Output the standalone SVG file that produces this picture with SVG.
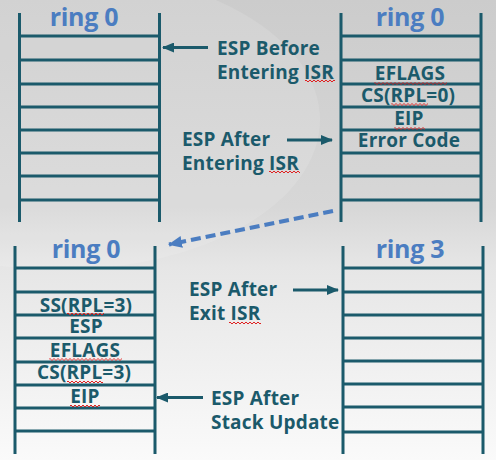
<svg xmlns="http://www.w3.org/2000/svg" xmlns:xlink="http://www.w3.org/1999/xlink" width="496" height="460" viewBox="0 0 496 460">
<style>
.stk{stroke:#1b5a6b;stroke-width:3;fill:none}
.ttl{font-family:"Open Sans","Noto Sans",sans-serif;font-weight:700;font-size:25px;fill:#4b7dc1;text-anchor:middle;letter-spacing:-0.3px}
.cell{font-family:"Open Sans","Noto Sans",sans-serif;font-weight:700;font-size:19px;fill:#1b5a6b;text-anchor:middle;letter-spacing:0.2px}
.lbl{font-family:"Open Sans","Noto Sans",sans-serif;font-weight:700;font-size:19px;fill:#1b5a6b;letter-spacing:0.2px}
.arr{stroke:#1b5a6b;stroke-width:3;fill:none;marker-end:url(#ah)}
.dash{stroke:#4b7dc1;stroke-width:4;fill:none;stroke-dasharray:10 5;marker-end:url(#bh)}
.sq{stroke:#e02020;stroke-width:1;fill:none}
</style>
<defs>
<linearGradient id="bg" x1="0" y1="0" x2="0" y2="1">
<stop offset="0" stop-color="#cccccc"/>
<stop offset="0.45" stop-color="#d7d7d7"/>
<stop offset="0.58" stop-color="#e6e6e6"/>
<stop offset="1" stop-color="#fafafa"/>
</linearGradient>
<marker id="ah" markerUnits="userSpaceOnUse" markerWidth="12" markerHeight="10" refX="11" refY="5" orient="auto">
<path d="M0,0 L12,5 L0,10 z" fill="#1b5a6b"/>
</marker>
<marker id="bh" markerUnits="userSpaceOnUse" markerWidth="14" markerHeight="12" refX="13" refY="6" orient="auto">
<path d="M0,0 L14,6 L0,12 z" fill="#4b7dc1"/>
</marker>
<path id="wv" class="sq" d="M0 2 q1 -2 2 0 t2 0 t2 0 t2 0 t2 0 t2 0 t2 0 t2 0 t2 0 t2 0 t2 0 t2 0 t2 0 t2 0 t2 0 t2 0 t2 0 t2 0 t2 0 t2 0 t2 0 t2 0 t2 0 t2 0 t2 0 t2 0 t2 0 t2 0 t2 0 t2 0 t2 0 t2 0 t2 0 t2 0 t2 0 t2 0 t2 0 t2 0 t2 0 t2 0"/>
</defs>
<rect width="496" height="460" fill="url(#bg)"/>
<ellipse cx="60" cy="120" rx="260" ry="150" fill="#ffffff" opacity="0.12"/>

<g id="stack-top-left">
<path class="stk" d="M19.5 13V222M159.5 13V222M19.5 36H159.5M19.5 60H159.5M19.5 84H159.5M19.5 107H159.5M19.5 130H159.5M19.5 153H159.5M19.5 176H159.5M19.5 200H159.5"/>
<text class="ttl" x="84" y="26">ring 0</text>
</g>

<g id="stack-top-right">
<path class="stk" d="M341 13V222M481 13V222M341 36H481M341 60H481M341 84H481M341 107H481M341 130H481M341 153H481M341 176H481M341 200H481"/>
<text class="ttl" x="410" y="26">ring 0</text>
<text class="cell" x="410" y="80">EFLAGS</text>
<text class="cell" x="408" y="102">CS(RPL=0)</text>
<text class="cell" x="409" y="125">EIP</text>
<text class="cell" x="409" y="147">Error Code</text>
</g>

<g id="stack-bottom-left">
<path class="stk" d="M15 246V454M155 246V454M15 268H155M15 292H155M15 315H155M15 338H155M15 362H155M15 385H155M15 408H155M15 431H155"/>
<text class="ttl" x="86" y="258">ring 0</text>
<text class="cell" x="86" y="312">SS(RPL=3)</text>
<text class="cell" x="86" y="333">ESP</text>
<text class="cell" x="85" y="357">EFLAGS</text>
<text class="cell" x="84" y="379">CS(RPL=3)</text>
<text class="cell" x="85" y="403">EIP</text>
</g>

<g id="stack-bottom-right">
<path class="stk" d="M343 246V454M483 246V454M343 268H483M343 292H483M343 315H483M343 338H483M343 361H483M343 384H483M343 407H483M343 432H483"/>
<text class="ttl" x="410" y="258">ring 3</text>
</g>

<g id="label-before">
<text class="lbl" x="217" y="55">ESP Before</text>
<text class="lbl" x="217" y="79">Entering ISR</text>
</g>
<g id="label-after-enter">
<text class="lbl" x="182" y="146">ESP After</text>
<text class="lbl" x="182" y="170">Entering ISR</text>
</g>
<g id="label-after-exit">
<text class="lbl" x="189" y="296">ESP After</text>
<text class="lbl" x="189" y="320">Exit ISR</text>
</g>
<g id="label-after-update">
<text class="lbl" x="211" y="405">ESP After</text>
<text class="lbl" x="211" y="429">Stack Update</text>
</g>

<g id="connectors">
<path class="arr" d="M208 47.5H163"/>
<path class="arr" d="M287 140H332"/>
<path class="arr" d="M293 290H338"/>
<path class="arr" d="M203 397.5H157"/>
<path class="dash" d="M333 211L169 244.5"/>
</g>

<g id="spellcheck">
<svg x="305" y="79" width="30" height="4" overflow="hidden"><use xlink:href="#wv"/></svg>
<svg x="269" y="170" width="31" height="4" overflow="hidden"><use xlink:href="#wv"/></svg>
<svg x="374" y="81.5" width="73" height="4" overflow="hidden"><use xlink:href="#wv"/></svg>
<svg x="391" y="102.5" width="37" height="4" overflow="hidden"><use xlink:href="#wv"/></svg>
<svg x="394" y="126.5" width="31" height="4" overflow="hidden"><use xlink:href="#wv"/></svg>
<svg x="229" y="321" width="32" height="4" overflow="hidden"><use xlink:href="#wv"/></svg>
<svg x="67" y="312" width="37" height="4" overflow="hidden"><use xlink:href="#wv"/></svg>
<svg x="49" y="357.5" width="73" height="4" overflow="hidden"><use xlink:href="#wv"/></svg>
<svg x="67" y="380" width="36" height="4" overflow="hidden"><use xlink:href="#wv"/></svg>
<svg x="70" y="404" width="30" height="4" overflow="hidden"><use xlink:href="#wv"/></svg>
</g>
</svg>
